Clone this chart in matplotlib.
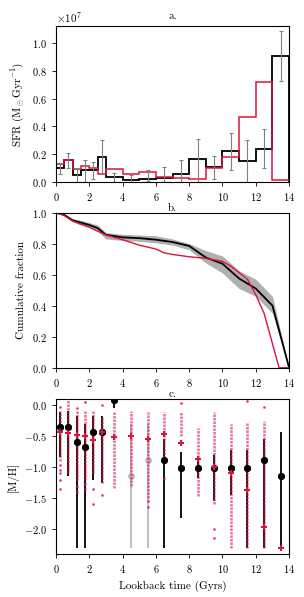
import numpy as np
import matplotlib
matplotlib.use("Agg")
import matplotlib.pyplot as plt

plt.rcParams['font.family'] = 'serif'
plt.rcParams['font.serif'] = ['cmr10', 'DejaVu Serif']
plt.rcParams['mathtext.fontset'] = 'cm'
plt.rcParams['axes.formatter.use_mathtext'] = True
plt.rcParams['font.size'] = 8

# age bins (Gyr)
edges = [0, 0.5, 1, 1.5, 2, 2.5, 3, 4, 5, 6, 7, 8, 9, 10, 11, 12, 13, 14]
centers = [0.25, 0.75, 1.25, 1.75, 2.25, 2.75, 3.5, 4.5, 5.5, 6.5, 7.5, 8.5, 9.5, 10.5, 11.5, 12.5, 13.5]

# panel a: SFR (units of 1e7 Msun/Gyr)
sfr_black = [0.098, 0.16, 0.054, 0.085, 0.088, 0.18, 0.037, 0.017, 0.024, 0.03, 0.06, 0.168, 0.105, 0.22, 0.15, 0.24, 0.907]
sfr_red = [0.13, 0.16, 0.095, 0.115, 0.10, 0.06, 0.093, 0.056, 0.073, 0.04, 0.03, 0.025, 0.098, 0.18, 0.466, 0.72, 0.017]
sfr_err_hi = [0.135, 0.207, 0.10, 0.16, 0.146, 0.30, 0.066, 0.05, 0.09, 0.11, 0.158, 0.31, 0.188, 0.354, 0.30, 0.378, 1.085]
sfr_err_lo = [0.06, 0.098, 0.0, 0.0, 0.024, 0.06, 0.0, 0.0, 0.01, 0.0, 0.0, 0.0, 0.024, 0.085, 0.0, 0.10, 0.727]

# panel b: cumulative mass fraction
cum_t = [0, 0.5, 1, 1.5, 2, 2.5, 3, 4, 5, 6, 7, 8, 9, 10, 11, 12, 13, 14]
cum_black = [1.0, 0.985, 0.95, 0.935, 0.92, 0.9, 0.857, 0.84, 0.835, 0.825, 0.81, 0.785, 0.71, 0.67, 0.575, 0.51, 0.40, 0.0]
cum_band_hi = [1.0, 0.99, 0.96, 0.95, 0.935, 0.92, 0.87, 0.86, 0.855, 0.85, 0.83, 0.80, 0.755, 0.72, 0.625, 0.57, 0.46, 0.0]
cum_band_lo = [1.0, 0.98, 0.94, 0.92, 0.905, 0.88, 0.83, 0.82, 0.815, 0.805, 0.79, 0.76, 0.675, 0.61, 0.51, 0.46, 0.35, 0.0]
cum_red_t = [0, 0.5, 1, 2, 3, 4, 5, 6, 6.5, 7, 8, 9, 10, 10.5, 11.5, 12, 12.5, 13.4, 14]
cum_red = [1.0, 0.98, 0.945, 0.905, 0.855, 0.825, 0.79, 0.765, 0.74, 0.73, 0.715, 0.705, 0.685, 0.655, 0.57, 0.47, 0.35, 0.0, 0.0]

# panel c: metallicity per bin
mh_black = [-0.36, -0.36, -0.59, -0.67, -0.43, -0.43, 0.08, -1.15, -0.88, -0.88, -1.02, -1.02, -1.02, -1.02, -1.02, -0.88, -1.15]
mh_black_hi = [-0.11, -0.1, -0.17, -0.3, -0.18, -0.17, 0.1, -0.3, -0.3, -0.55, -0.75, -0.85, -0.8, -0.72, -0.72, -0.55, -0.43]
mh_black_lo = [-0.83, -1.15, -2.3, -2.3, -1.2, -1.25, -0.05, -2.3, -2.3, -2.3, -1.82, -1.18, -1.55, -1.45, -2.3, -2.3, -2.3]
mh_faint = [False, False, False, False, False, False, False, True, True, False, False, False, False, False, False, False, False]
mh_red = [-0.44, -0.45, -0.48, -0.5, -0.56, -0.44, -0.52, -0.5, -0.54, -0.47, -0.62, -0.87, -1.0, -1.1, -1.37, -1.97, -2.3]
# red star particles: dense range per bin plus sparse outliers
dots_hi = [-0.1, 0.1, -0.08, -0.1, -0.08, -0.2, -0.1, -0.1, -0.12, -0.12, -0.12, -0.37, -0.12, -0.3, -0.28, -0.25, None]
dots_lo = [-0.9, -1.1, -1.2, -1.2, -1.1, -1.25, -1.33, -1.3, -1.5, -0.85, -0.5, -1.47, -1.6, -2.3, -2.3, -2.3, None]
dots_sparse = [[-0.03, -0.97, -1.05, -1.1, -1.2, -1.35], [], [-0.05, -1.3, -1.4], [0.05, -1.28, -1.35],
               [-1.35, -1.6], [0.0, -1.45], [], [], [-1.55, -1.65], [-1.18],
               [0.03, -0.6], [], [-2.0, -2.15], [], [0.07], [-0.03], []]

fig = plt.figure(figsize=(3.04, 5.97), dpi=100)
ax1 = fig.add_axes([0.184, 0.695, 0.767, 0.261])
ax2 = fig.add_axes([0.184, 0.384, 0.767, 0.260])
ax3 = fig.add_axes([0.184, 0.072, 0.767, 0.260])

red = '#dc143c'

# a.
s = 1e7
ax1.stairs(np.array(sfr_black) * s, edges, color='k', lw=1.3)
ax1.stairs(np.array(sfr_red) * s, edges, color=red, lw=1.1)
mid = (np.array(sfr_err_hi) + np.array(sfr_err_lo)) / 2
half = (np.array(sfr_err_hi) - np.array(sfr_err_lo)) / 2
ax1.errorbar(centers, mid * s, yerr=half * s, fmt='none', ecolor='gray', elinewidth=0.8, capsize=1.5, capthick=0.8)
ax1.set_xlim(0, 14)
ax1.set_ylim(0, 1.12e7)
ax1.set_xticks(range(0, 15, 2))
ax1.set_yticks([0, 0.2e7, 0.4e7, 0.6e7, 0.8e7, 1.0e7])
ax1.set_ylabel(r'SFR (M$_\odot$Gyr$^{-1}$)')
ax1.set_title('a.', fontsize=8, pad=5)

# b.
ax2.fill_between(cum_t, cum_band_lo, cum_band_hi, color='#b0b0b0', lw=0)
ax2.plot(cum_t, cum_black, color='k', lw=1.3)
ax2.plot(cum_red_t, cum_red, color=red, lw=1.0)
ax2.set_xlim(0, 14)
ax2.set_ylim(0, 1.0)
ax2.set_xticks(range(0, 15, 2))
ax2.set_yticks([0, 0.2, 0.4, 0.6, 0.8, 1.0])
ax2.set_ylabel('Cumulative fraction')
ax2.set_title('b.', fontsize=8, pad=0)

# c.
for i, x in enumerate(centers):
    c = '#bbbbbb' if mh_faint[i] else 'k'
    ax3.errorbar([x], [mh_black[i]], yerr=[[mh_black[i] - mh_black_lo[i]], [mh_black_hi[i] - mh_black[i]]],
                 fmt='o', color=c, ms=4, elinewidth=1.3, capsize=0, zorder=2)
for i, x in enumerate(centers):
    if dots_hi[i] is not None:
        ax3.vlines(x, dots_lo[i], dots_hi[i], color=red, lw=1.8, alpha=0.6, ls=(0, (1, 0.4)), zorder=3)
    if dots_sparse[i]:
        ax3.scatter([x] * len(dots_sparse[i]), dots_sparse[i], s=3.5, color=red, alpha=0.85, lw=0, zorder=3)
ax3.plot(centers, mh_black, 'o', color='k', ms=4, ls='none', zorder=3.5,
         markevery=[i for i, f in enumerate(mh_faint) if not f])
ax3.plot(centers, mh_red, 'P', color=red, ms=5, mew=0, ls='none', zorder=4)
ax3.set_xlim(0, 14)
ax3.set_ylim(-2.4, 0.1)
ax3.set_xticks(range(0, 15, 2))
ax3.set_yticks([0.0, -0.5, -1.0, -1.5, -2.0])
ax3.set_ylabel('[M/H]')
ax3.set_xlabel('Lookback time (Gyrs)')
ax3.set_title('c.', fontsize=8, pad=0)

for ax in (ax1, ax2, ax3):
    ax.tick_params(labelsize=7.5, length=3, width=0.6)
    for sp in ax.spines.values():
        sp.set_linewidth(0.8)

fig.savefig('out.png', dpi=100)
